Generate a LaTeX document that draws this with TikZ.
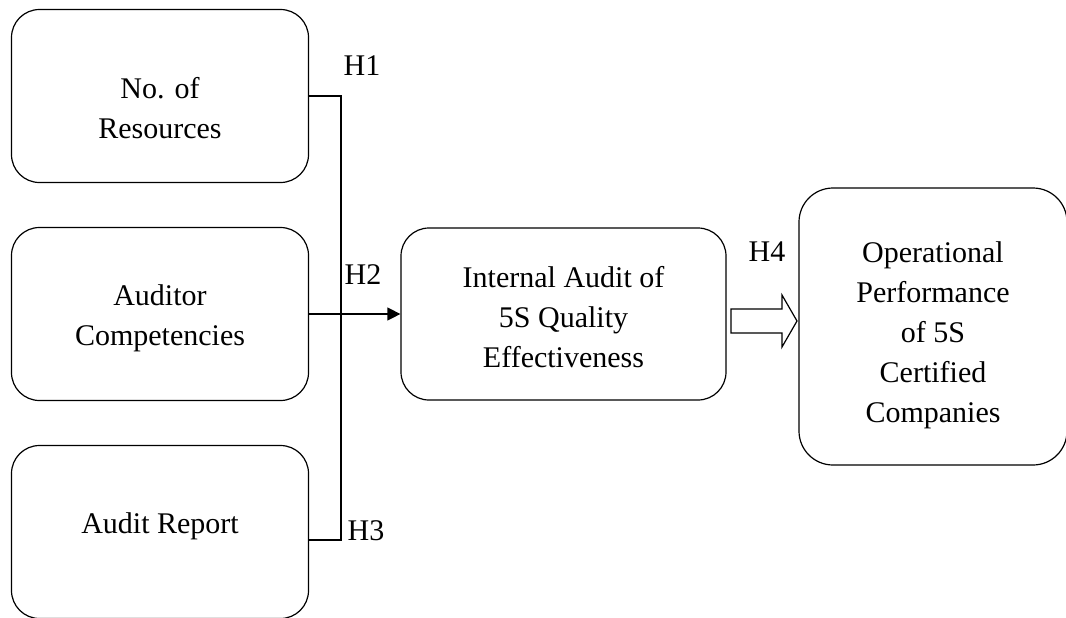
\documentclass[tikz,border=0pt]{standalone}
\usepackage{fontspec}
\setmainfont{Liberation Serif}
\usetikzlibrary{arrows.meta}
\newcommand{\padtop}[1]{\rule{0pt}{#1}}
\newcommand{\padbot}[1]{\rule[-#1]{0pt}{#1}}

\begin{document}
\begin{tikzpicture}[->, >={Triangle[length=6.5pt,width=6.5pt]}, x=0.5pt, y=-0.5pt,
  node distance=109pt, semithick, font=\fontsize{15}{20}\selectfont,
  factor/.style={draw, rounded corners=14pt, minimum width=148.5pt, minimum height=86.5pt, align=center, inner sep=0pt},
  hyp/.style={inner sep=0pt}]
%
\useasboundingbox (0,0) rectangle (1066,617);
%
\node (F1) [factor] at (160,96) {\padtop{22.3pt}No. of\\Resources};
\node (F2) [factor, below of=F1] {\padtop{14.3pt}Auditor\\Competencies};
\node (F3) [factor, below of=F2] {Audit Report\padbot{9.3pt}};
\node (IA) [factor, minimum width=162.5pt, minimum height=86pt] at (563.5,314) {\padtop{13.3pt}Internal Audit of\\5S Quality\\Effectiveness};
\node (OP) [factor, rounded corners=17pt, minimum width=134pt, minimum height=138.5pt] at (933,326.5) {\padtop{19.3pt}Operational\\Performance\\of 5S\\Certified\\Companies};
%
\coordinate (J1) at (341,96);
\coordinate (J3) at (341,540);
\coordinate (A4) at (731,321);
%
\node (H1) [hyp] at (362,66) {H1};
\node (H2) [hyp] at (363,275) {H2};
\node (H3) [hyp] at (366,531) {H3};
\node (H4) [hyp] at (767,252) {H4};
%
\draw[-] (F1.east) -- (J1) -- (J3) -- (J3 -| F3.east);
\draw (F2.east |- IA.west) -- (IA.west);
\draw[-] (A4) ++(0,-12) -- ++(51,0) -- ++(0,-14) -- ++(15,26) -- ++(-15,26) -- ++(0,-14) -- ++(-51,0) -- cycle;
\end{tikzpicture}
\end{document}
